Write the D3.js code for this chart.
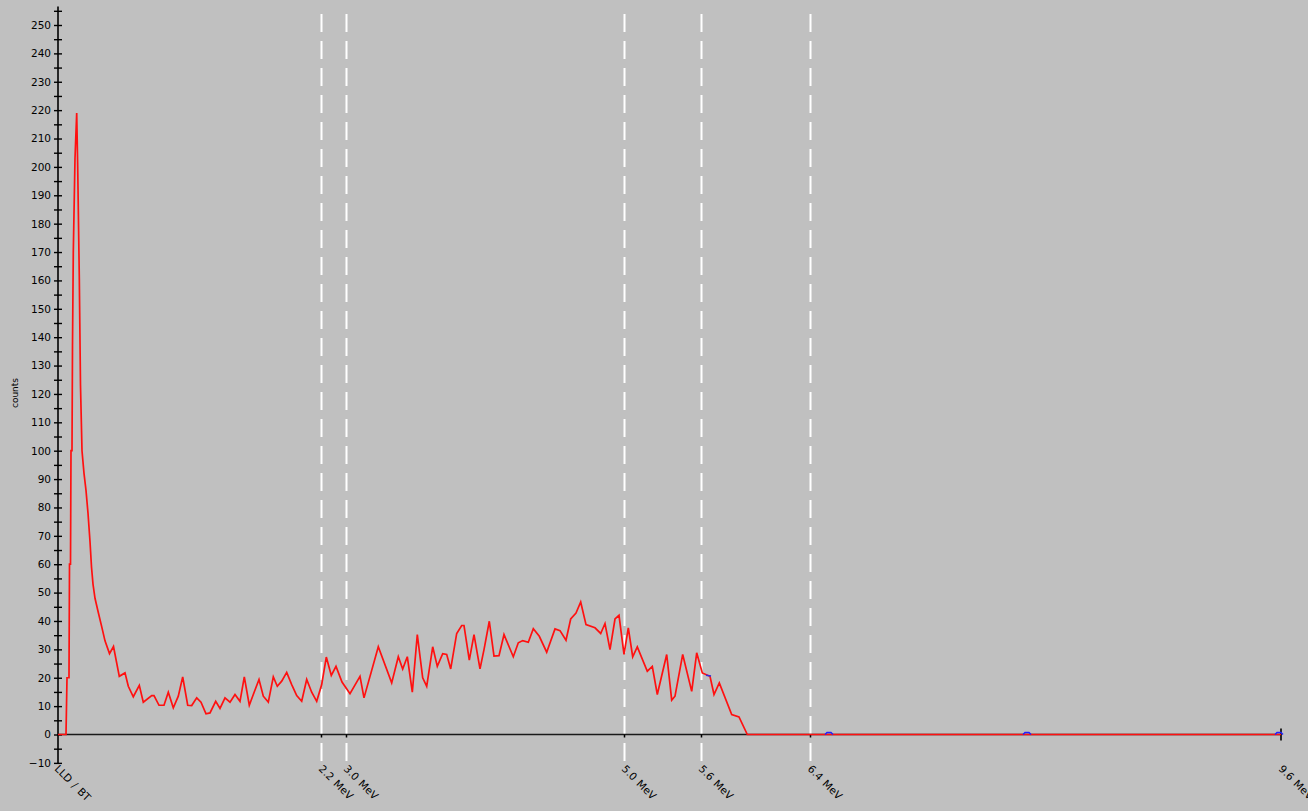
<!DOCTYPE html>
<html>
<head>
<meta charset="utf-8">
<script src="https://cdn.jsdelivr.net/npm/d3@7"></script>
<style>
  html, body { margin: 0; padding: 0; background: #c0c0c0; }
  svg { display: block; }
  text { font-family: "DejaVu Sans", "Liberation Sans", sans-serif; fill: #000; }
</style>
</head>
<body>
<svg id="chart" width="1308" height="811"></svg>
<script>
// Spectrum vertices: channel position and counts
const channels = [
  0, 8, 9, 11, 11.5, 12.5, 13, 14, 14.5, 15.3,
  17, 18.7, 19.7, 21.3, 22.5, 24, 26, 28, 30, 32,
  33.5, 35, 37, 40.3, 43.7, 47, 51.5, 55.5, 61.3, 67,
  70.3, 75.3, 81.3, 85.3, 93.7, 96, 101, 106, 110.3, 115.3,
  120.3, 124.7, 129.7, 133.7, 138.7, 143, 148, 152, 157.7, 162,
  167, 172, 177, 182, 186.3, 191.3, 195.3, 201, 205.3, 210.3,
  215.3, 219.3, 223.7, 228.7, 233.7, 238.7, 243.7, 248.7, 253.7, 258.7,
  263.7, 268.3, 273.3, 278, 284, 292, 302, 306, 320.3, 333.7,
  340.3, 344.7, 349.3, 354.3, 359.3, 364.7, 368.7, 374.7, 379.3, 384.7,
  388.7, 392.7, 398.7, 403.7, 406, 411.3, 416, 422, 426, 431.3,
  436, 441, 446, 455.3, 460.3, 464.7, 470.3, 475.3, 481.3, 488.7,
  497, 502, 508, 512.7, 518, 522.7, 528, 537, 542.7, 547,
  552, 557, 561, 566, 570.3, 574.7, 579.3, 589.3, 594.3, 599.3,
  608.7, 613.7, 617, 624.7, 633.7, 638.7, 644.3, 652, 656, 661.3,
  673.7, 681, 689.3, 1223
];
const counts = [
  0, 0, 20, 20, 60, 60, 100, 100, 137, 170,
  203, 219, 200, 161, 123, 100, 92, 86, 78, 68,
  59, 53, 48, 43, 38, 33, 28.5, 31, 20.5, 21.7,
  17, 13.3, 17.3, 11.4, 13.7, 13.7, 10.3, 10.3, 14.9, 9.4,
  13.5, 20.3, 10.3, 10.2, 12.9, 11.4, 7.3, 7.6, 11.7, 9.2,
  12.9, 11.4, 14.1, 11.7, 20.3, 10.3, 14.1, 19.4, 13.5, 11.4,
  20.3, 17, 18.8, 21.9, 17.6, 13.7, 11.7, 19.4, 14.9, 11.7,
  17.6, 27.3, 20.8, 24, 18.5, 14.4, 20.5, 12.9, 30.9, 18.2,
  27.4, 23.1, 27.4, 14.9, 35.2, 20, 17, 30.9, 24, 28.5,
  28.2, 23.1, 35.6, 38.4, 38.4, 26.2, 35.2, 23.1, 29.9, 39.9,
  27.6, 27.8, 35.2, 27.4, 32.3, 33.1, 32.5, 37.3, 34.6, 29,
  37.2, 36.6, 33.2, 40.7, 42.8, 46.7, 38.7, 37.6, 35.6, 39.1,
  29.9, 40.7, 42, 28.2, 37.6, 27.4, 30.9, 22.3, 24, 14.1,
  28.2, 12.1, 13.5, 28.2, 15.2, 28.8, 21.7, 20.5, 14.1, 18.2,
  7, 6.2, 0, 0
];

// Energy markers along the channel axis
const markerChannels = [0, 263, 288, 566, 643, 752, 1223];
const markerLabels = ["LLD / BT", "2.2 MeV", "3.0 MeV", "5.0 MeV", "5.6 MeV", "6.4 MeV", "9.6 MeV"];
const windowLines = [263, 288, 566, 643, 752];

// Region cursors (blue)
const cursorChannels = [771, 969, 1221];
const roiSegment = [648, 653];
const roiCounts = [20.9, 20.6];

// Count axis ticks
const yMajorTicks = [-10, 0, 10, 20, 30, 40, 50, 60, 70, 80, 90, 100, 110, 120, 130, 140, 150, 160, 170, 180, 190, 200, 210, 220, 230, 240, 250];
const yMinorTicks = [-5, 5, 15, 25, 35, 45, 55, 65, 75, 85, 95, 105, 115, 125, 135, 145, 155, 165, 175, 185, 195, 205, 215, 225, 235, 245, 255];

const svg = d3.select("#chart");
const W = 1308, H = 811;

svg.append("rect").attr("width", W).attr("height", H).attr("fill", "#c0c0c0");

const x = d3.scaleLinear().domain([0, 1223]).range([58, 1281]);
const y = d3.scaleLinear().domain([0, 250]).range([734.5, 25]);

// Dashed window lines
svg.append("g").selectAll("line").data(windowLines).join("line")
  .attr("x1", d => Math.round(x(d)) + 0.5)
  .attr("x2", d => Math.round(x(d)) + 0.5)
  .attr("y1", 14)
  .attr("y2", 763)
  .attr("stroke", "#ffffff")
  .attr("stroke-width", 2)
  .attr("stroke-dasharray", "18,9");

// Count axis: crossing ticks on both sides
const yAxisG = svg.append("g").attr("transform", "translate(58,0)");
yAxisG.append("line")
  .attr("x1", 0).attr("x2", 0)
  .attr("y1", y(256.5)).attr("y2", y(-10) + 1)
  .attr("stroke", "#000").attr("stroke-width", 1.6);

const leftMajor = yAxisG.append("g").call(
  d3.axisLeft(y).tickValues(yMajorTicks).tickSize(4).tickPadding(3).tickFormat(d3.format("d"))
);
const rightMajor = yAxisG.append("g").call(
  d3.axisRight(y).tickValues(yMajorTicks).tickSize(4).tickFormat("")
);
const leftMinor = yAxisG.append("g").call(
  d3.axisLeft(y).tickValues(yMinorTicks).tickSize(4).tickFormat("")
);
const rightMinor = yAxisG.append("g").call(
  d3.axisRight(y).tickValues(yMinorTicks).tickSize(4).tickFormat("")
);
[leftMajor, rightMajor, leftMinor, rightMinor].forEach(g => {
  g.select(".domain").remove();
  g.selectAll(".tick line").attr("stroke", "#000").attr("stroke-width", 1.4);
});
leftMajor.selectAll(".tick text")
  .attr("font-size", "10.5px")
  .attr("font-family", "'Liberation Sans', sans-serif")
  .attr("fill", "#000");

svg.append("text")
  .attr("transform", "translate(18,393) rotate(-90)")
  .attr("text-anchor", "middle")
  .attr("font-size", "9px")
  .text("counts");

// Channel axis at zero counts
svg.append("line")
  .attr("x1", x(0)).attr("x2", x(1223))
  .attr("y1", y(0)).attr("y2", y(0))
  .attr("stroke", "#1a1a1a").attr("stroke-width", 1.6);

svg.append("g").selectAll("line").data(markerChannels.slice(1, -1)).join("line")
  .attr("x1", d => Math.round(x(d)) + 0.5)
  .attr("x2", d => Math.round(x(d)) + 0.5)
  .attr("y1", y(0)).attr("y2", y(0) + 3)
  .attr("stroke", "#000").attr("stroke-width", 1.5);

svg.append("line")
  .attr("x1", x(1223)).attr("x2", x(1223))
  .attr("y1", y(0) - 6).attr("y2", y(0) + 6)
  .attr("stroke", "#000").attr("stroke-width", 1.6);

svg.append("g").selectAll("text").data(markerChannels).join("text")
  .attr("transform", (d, i) => `translate(${x(d) - (i === 0 ? 4 : 3)},${y(0) + 35}) rotate(45)`)
  .attr("font-size", "10.5px")
  .attr("word-spacing", "1px")
  .text((d, i) => markerLabels[i]);

// Spectrum trace
const points = channels.map((c, i) => [c, counts[i]]);
svg.append("path")
  .datum(points)
  .attr("fill", "none")
  .attr("stroke", "#ff1010")
  .attr("stroke-width", 1.7)
  .attr("stroke-linejoin", "miter")
  .attr("d", d3.line().x(d => x(d[0])).y(d => y(d[1])));

// Cursor marks
svg.append("g").selectAll("path").data(cursorChannels).join("path")
  .attr("d", d => `M${x(d) - 4},${y(0)} L${x(d) - 2},${y(0) - 2} L${x(d) + 2},${y(0) - 2} L${x(d) + 4},${y(0)}`)
  .attr("fill", "none")
  .attr("stroke", "#2020ff")
  .attr("stroke-width", 1.4);

svg.append("line")
  .attr("x1", x(roiSegment[0])).attr("x2", x(roiSegment[1]))
  .attr("y1", y(roiCounts[0])).attr("y2", y(roiCounts[1]))
  .attr("stroke", "#3030e0").attr("stroke-width", 1.4);
</script>
</body>
</html>
